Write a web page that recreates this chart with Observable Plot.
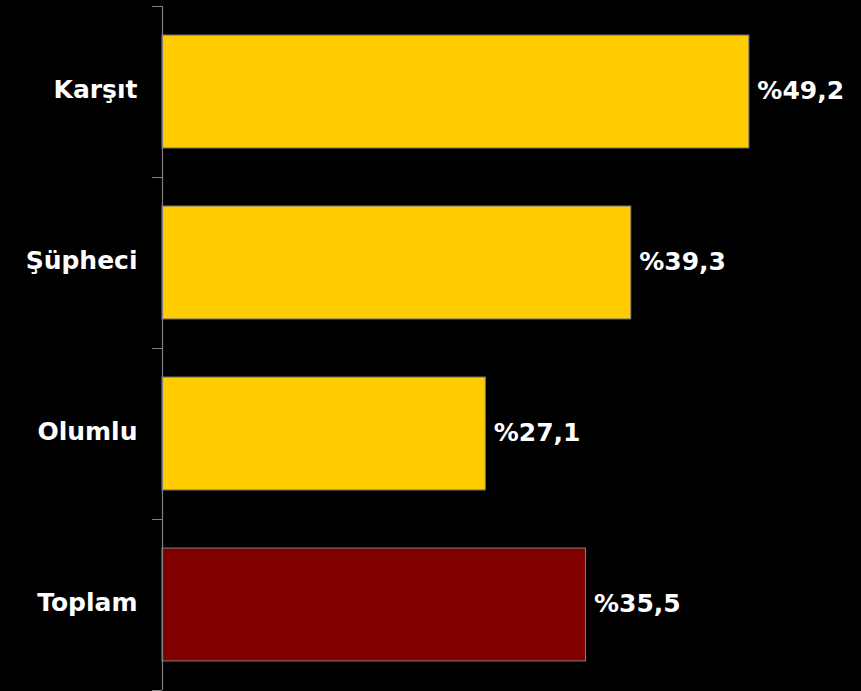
<!DOCTYPE html>
<html>
<head>
<meta charset="utf-8">
<script src="https://cdn.jsdelivr.net/npm/d3@7"></script>
<script src="https://cdn.jsdelivr.net/npm/@observablehq/plot@0.6"></script>
<style>
  html, body { margin: 0; padding: 0; background: #000; }
  #chart svg { display: block; }
</style>
</head>
<body>
<div id="chart"></div>
<script>
const categories = ["Karşıt", "Şüpheci", "Olumlu", "Toplam"];
const values = [49.2, 39.3, 27.1, 35.5];

const data = categories.map((c, i) => ({cat: c, val: values[i], idx: i}));
const fmt = v => "%" + v.toFixed(1).replace(".", ",");
const gray = "#808080";
const pad = 0.17;

const chart = Plot.plot({
  width: 861,
  height: 691,
  marginLeft: 162,
  marginRight: 0,
  marginTop: 6,
  marginBottom: 1,
  style: {background: "#000", fontFamily: "DejaVu Sans, Verdana, sans-serif"},
  x: {domain: [0, 58.6], axis: null},
  y: {domain: [0, categories.length], range: [6, 690], axis: null},
  marks: [
    Plot.axisY({
      ticks: d3.range(categories.length + 1),
      tickSize: 10,
      tickFormat: () => "",
      stroke: gray,
      strokeOpacity: 1
    }),
    Plot.rectX(data, {
      x1: 0,
      x2: "val",
      y1: d => d.idx + pad,
      y2: d => d.idx + 1 - pad,
      fill: d => d.cat === "Toplam" ? "#800000" : "#FFCC00",
      stroke: gray,
      strokeWidth: 1
    }),
    Plot.ruleX([0], {stroke: gray, strokeWidth: 1.2}),
    Plot.text(data, {
      x: 0,
      y: d => d.idx + 0.5,
      text: "cat",
      textAnchor: "end",
      dx: -25,
      dy: -2,
      fill: "#fff",
      fontSize: 25,
      fontWeight: "bold"
    }),
    Plot.text(data, {
      x: "val",
      y: d => d.idx + 0.5,
      text: d => fmt(d.val),
      textAnchor: "start",
      dx: 8,
      dy: -1,
      fill: "#fff",
      fontSize: 25,
      fontWeight: "bold"
    })
  ]
});
document.getElementById("chart").appendChild(chart);
</script>
</body>
</html>
